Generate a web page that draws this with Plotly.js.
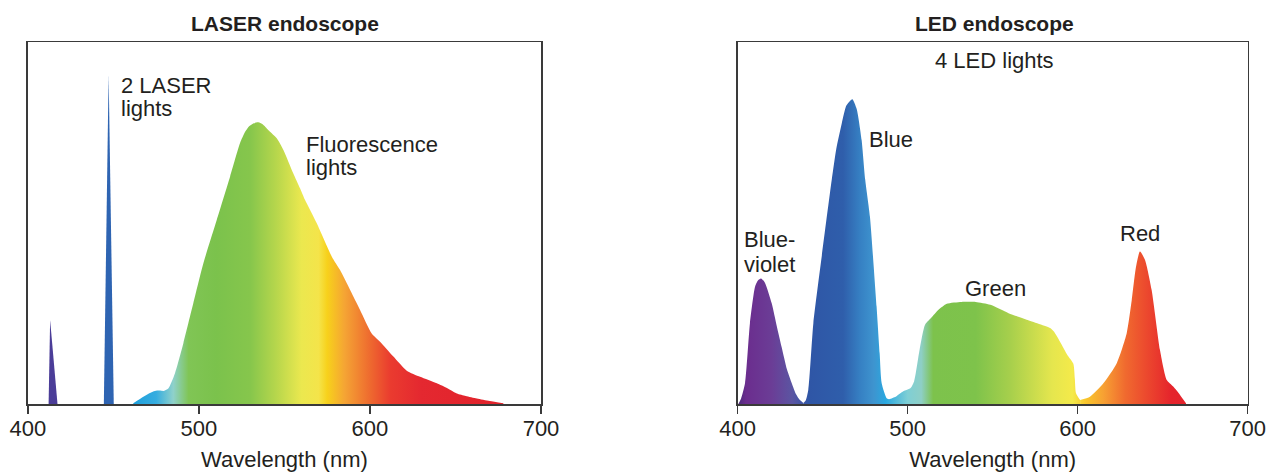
<!DOCTYPE html>
<html>
<head>
<meta charset="utf-8">
<script src="https://cdn.plot.ly/plotly-3.0.1.min.js"></script>
<style>
  html, body { margin: 0; padding: 0; background: #ffffff; }
  #chart { width: 1269px; height: 472px; }
</style>
</head>
<body>
<div id="chart"></div>
<script>
// ---------- DATA (wavelength in nm, relative intensity 0-100) ----------
// LASER endoscope
const laserVioletNm  = [412.1, 413.0, 417.3];
const laserVioletVal = [0, 23.2, 0];
const laserBlueNm    = [444.4, 447.2, 450.2];
const laserBlueVal   = [0, 91.0, 0];
const fluorNm  = [461.6, 467.5, 471, 474.3, 477, 479.2, 482.1, 486, 490.9, 496.7, 502.6, 510.4, 518.2, 524, 527, 529.5, 531.8, 534.7, 537.7, 541, 545.5, 549.4, 555.2, 559.1, 562, 568.9, 577.7, 582.5, 588.4, 594.2, 601, 605.9, 613.7, 621.5, 629.3, 639.1, 645, 650.8, 656, 662.5, 670, 678];
const fluorVal = [0.2, 2.0, 3.0, 3.6, 3.7, 3.6, 4.3, 8.5, 16.8, 27.8, 38.9, 50.8, 62.8, 72, 75.2, 76.8, 77.5, 77.8, 77.1, 75.5, 73.4, 70.2, 63.7, 59.6, 56.4, 49.9, 40.7, 37, 31.5, 26, 19.5, 17.2, 13.1, 9.2, 7.5, 5.7, 4.4, 2.9, 2.2, 1.5, 0.8, 0.2];

// LED endoscope
const ledVioletNm  = [400.4, 402, 404.3, 407.2, 410.2, 412, 413.7, 416, 420, 423, 425.8, 429, 431.8, 434, 436.6, 438.6];
const ledVioletVal = [0, 1.5, 5.7, 22.3, 32.4, 34.2, 34.7, 33.5, 27.8, 21.5, 15.8, 9.5, 5.7, 3, 1.1, 0.3];
const ledBlueNm  = [438.6, 440, 441.5, 444.5, 449.4, 455.3, 458, 461.2, 464, 467.4, 470, 472.9, 475, 477.8, 480, 481.7, 483.5, 484.7, 487.6, 489];
const ledBlueVal = [0.3, 1, 3.9, 22.3, 40.7, 61.9, 70.5, 77.5, 82.5, 84.2, 81.5, 72.9, 62, 51.7, 38, 26.9, 14, 5.7, 1.6, 1.3];
const ledGreenNm  = [489, 493.2, 497.4, 501.7, 503.8, 507, 510.2, 514.5, 518, 523, 531.6, 540, 548.6, 559.3, 570, 583.8, 586, 589.6, 594, 597.4, 598.3, 599, 601.4];
const ledGreenVal = [1.3, 2.1, 3.5, 4.4, 6.3, 15, 21.9, 24.2, 26, 27.7, 28.2, 28.2, 27.4, 25.1, 23.3, 21, 20, 17.2, 13.5, 11.2, 7, 3, 1.1];
const ledRedNm  = [601.4, 607.2, 615.1, 622.9, 628.8, 631.8, 634.3, 636.6, 639.6, 643.5, 648.4, 652.4, 656.2, 660.2, 663.7];
const ledRedVal = [1.1, 2, 5.7, 11.2, 19.5, 28.7, 37.9, 42.1, 39.8, 31.5, 14.9, 6.6, 4.8, 2.5, 0.2];

const tickVals = [400, 500, 600, 700];
const tickText = ['400', '500', '600', '700'];

// ---------- STYLE ----------
const W = 1269, H = 472;
const toScale = stops => stops.map(([nm, c]) => [(nm - 400) / 300, c]);
const laserScale = toScale([
  [400, '#5b2d90'], [462, '#1fa0dc'], [475, '#36ade0'], [485, '#8fd1cb'],
  [494, '#80c555'], [510, '#7bc24c'], [530, '#86c64c'], [545, '#b6d64c'],
  [560, '#ebe84f'], [570, '#f4e44a'], [575, '#f7d11b'], [585, '#f5a534'],
  [600, '#ee6a2f'], [612, '#ea3b2f'], [630, '#e42830'], [700, '#e01f28']
]);
const ledScale = toScale([
  [400, '#4a2a7a'], [405, '#6b2d8e'], [420, '#6b3d96'], [432, '#5b55a2'],
  [442, '#2f56a6'], [462, '#2f5eab'], [472, '#3680c3'], [480, '#3e94cf'],
  [487, '#29a8e0'], [500, '#7fcfd5'], [508, '#8ecfc6'], [515, '#7dc24c'],
  [540, '#7ec34b'], [560, '#a6cf4c'], [585, '#e5e64e'], [597, '#f4ea4a'],
  [605, '#f8c42b'], [615, '#f7a133'], [628, '#f06a2f'], [640, '#ec4a2e'],
  [655, '#e5242c'], [700, '#e01f28']
]);

function area(x, y, xa, ya, scale, spline) {
  return {
    x: x, y: y, xaxis: xa, yaxis: ya, type: 'scatter', mode: 'lines',
    line: { width: 0, shape: spline ? 'spline' : 'linear', smoothing: 0.6 },
    fill: 'tozeroy',
    fillgradient: { type: 'horizontal', colorscale: scale, start: 400, stop: 700 },
    hoverinfo: 'skip', showlegend: false
  };
}
function solid(x, y, xa, ya, color) {
  return {
    x: x, y: y, xaxis: xa, yaxis: ya, type: 'scatter', mode: 'lines',
    line: { width: 0 }, fill: 'tozeroy', fillcolor: color,
    hoverinfo: 'skip', showlegend: false
  };
}

const traces = [
  solid(laserVioletNm, laserVioletVal, 'x', 'y', '#4b3d98'),
  solid(laserBlueNm, laserBlueVal, 'x', 'y', '#2e64b2'),
  area(fluorNm, fluorVal, 'x', 'y', laserScale, true),
  area(ledVioletNm, ledVioletVal, 'x2', 'y2', ledScale, true),
  area(ledBlueNm, ledBlueVal, 'x2', 'y2', ledScale, true),
  area(ledGreenNm, ledGreenVal, 'x2', 'y2', ledScale, true),
  area(ledRedNm, ledRedVal, 'x2', 'y2', ledScale, true)
];

const FONT = 'Liberation Sans, Arial, Helvetica, sans-serif';
const TXT = '#231f20';
const LINE = '#3a3a3a';

function xAxis(domain, anchor) {
  return {
    domain: domain, anchor: anchor, range: [400, 700], fixedrange: true,
    tickmode: 'array', tickvals: tickVals, ticktext: tickText,
    ticks: 'outside', ticklen: 8, tickwidth: 1.5, tickcolor: LINE,
    ticklabelstandoff: -4,
    showline: true, linecolor: LINE, linewidth: 1.5, mirror: true,
    showgrid: false, zeroline: false,
    tickfont: { family: FONT, size: 22, color: TXT },
    title: { text: 'Wavelength (nm)', font: { family: FONT, size: 22, color: TXT }, standoff: 14 }
  };
}
function yAxis(anchor) {
  return {
    domain: [(H - 404) / H, (H - 42) / H], anchor: anchor, range: [0, 100], fixedrange: true,
    showticklabels: false, ticks: '', showgrid: false, zeroline: false,
    showline: true, linecolor: LINE, linewidth: 1.5, mirror: true
  };
}

function label(text, px, py, xanchor, bold, size) {
  return {
    text: bold ? '<b>' + text + '</b>' : text,
    xref: 'paper', yref: 'paper', x: px / W, y: 1 - py / H,
    xanchor: xanchor, yanchor: 'middle', showarrow: false,
    font: { family: FONT, size: size || 22, color: TXT }
  };
}

const layout = {
  width: W, height: H,
  margin: { l: 0, r: 0, t: 0, b: 0 },
  paper_bgcolor: '#ffffff', plot_bgcolor: '#ffffff',
  xaxis: xAxis([27.9 / W, 541 / W], 'y'),
  yaxis: yAxis('x'),
  xaxis2: xAxis([737.7 / W, 1247.7 / W], 'y2'),
  yaxis2: yAxis('x2'),
  annotations: [
    label('LASER endoscope', 285, 24, 'center', true, 21),
    label('LED endoscope', 994, 24, 'center', true, 21),
    label('2 LASER', 119, 86, 'left'),
    label('lights', 119, 109, 'left'),
    label('Fluorescence', 304, 144, 'left'),
    label('lights', 304, 168, 'left'),
    label('4 LED lights', 994, 61, 'center'),
    label('Blue', 867, 139, 'left'),
    label('Blue-', 742, 239, 'left'),
    label('violet', 742, 264, 'left'),
    label('Green', 995, 288, 'center'),
    label('Red', 1140, 233, 'center')
  ]
};

Plotly.newPlot('chart', traces, layout, { staticPlot: true, displayModeBar: false });
</script>
</body>
</html>
